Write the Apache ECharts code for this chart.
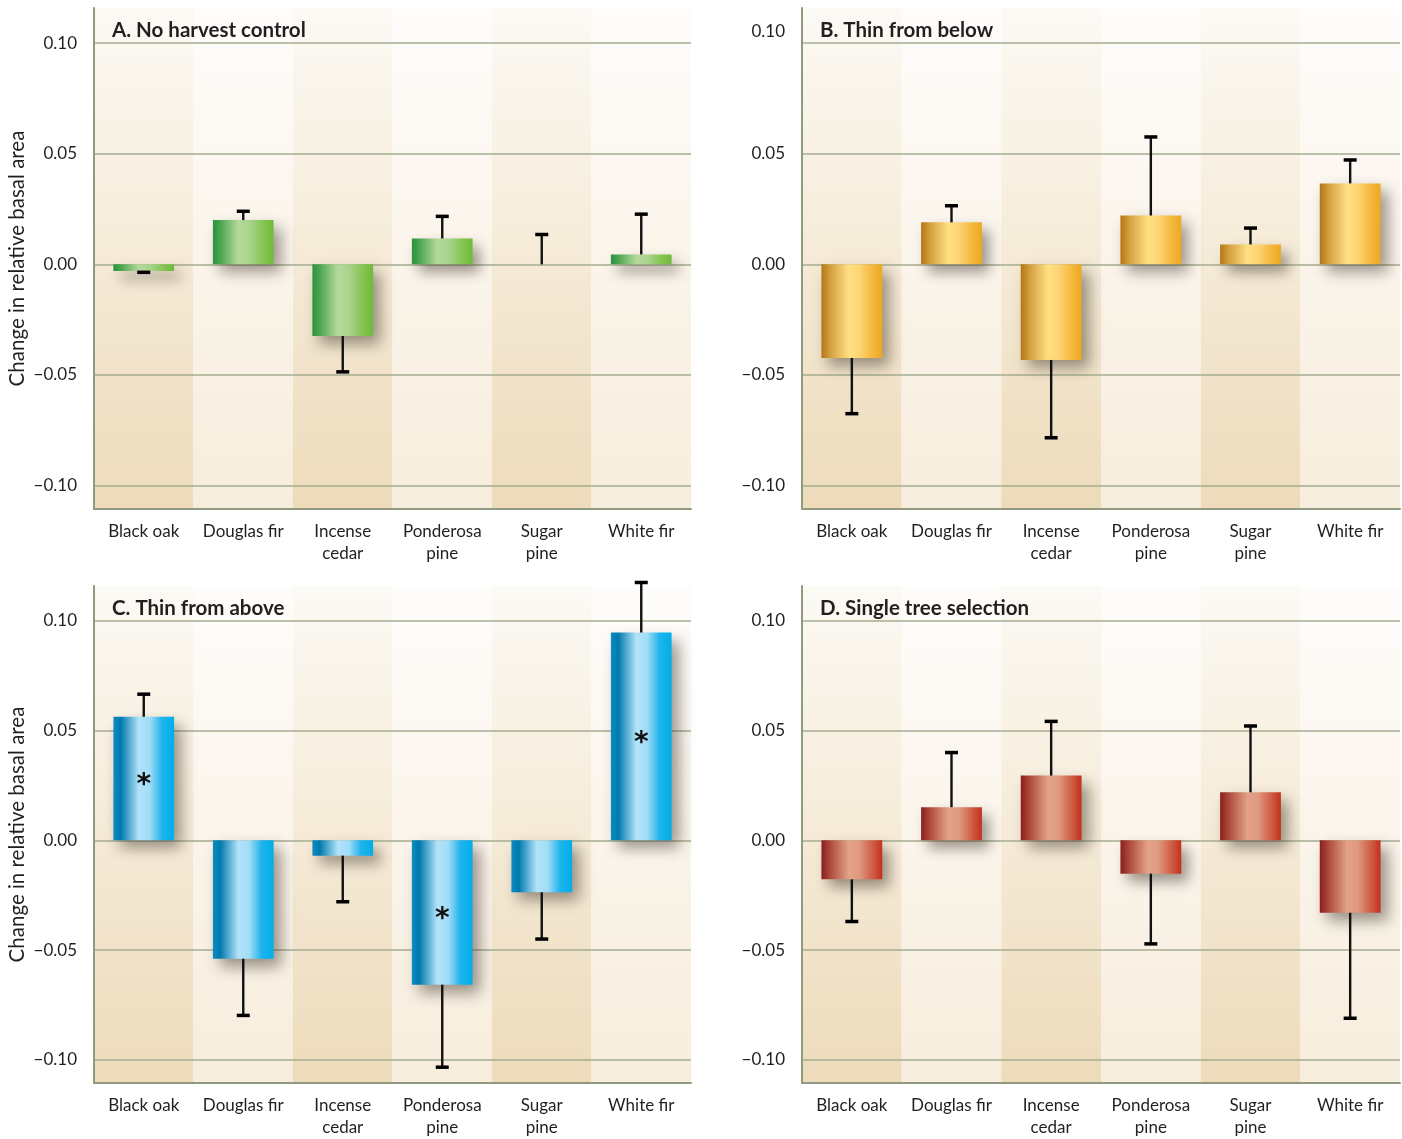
<!DOCTYPE html>
<html><head><meta charset="utf-8">
<script src="https://cdn.jsdelivr.net/npm/echarts@6/dist/echarts.min.js"></script>
<style>html,body{margin:0;padding:0;background:#fff}#c{width:1402px;height:1139px}</style>
</head><body><div id="c"></div>
<script>
// ---- data ----
const categories = ['Black oak', 'Douglas fir', 'Incense\ncedar', 'Ponderosa\npine', 'Sugar\npine', 'White fir'];
const panelTitles = ['A. No harvest control', 'B. Thin from below', 'C. Thin from above', 'D. Single tree selection'];
const yAxisTitle = 'Change in relative basal area';
const yTickValues = [-0.10, -0.05, 0.00, 0.05, 0.10];

const meanA = [-0.003, 0.020, -0.0324, 0.0117, 0.0, 0.0045];
const seA   = [0.0006, 0.004, 0.0162, 0.0100, 0.0135, 0.0182];
const meanB = [-0.0423, 0.019, -0.0432, 0.0221, 0.009, 0.0366];
const seB   = [0.0252, 0.0075, 0.0352, 0.0355, 0.0074, 0.0106];
const meanC = [0.0563, -0.054, -0.007, -0.0658, -0.0237, 0.0947];
const seC   = [0.0103, 0.0258, 0.0210, 0.0376, 0.0213, 0.0228];
const sigC  = ['*', '', '', '*', '', '*'];
const meanD = [-0.0178, 0.0151, 0.0295, -0.0152, 0.0219, -0.0330];
const seD   = [0.0192, 0.0249, 0.0247, 0.0320, 0.0302, 0.0481];

// ---- layout / style ----
const YMIN = -0.1106, YMAX = 0.1159;
const FONT = 'Lato, "Open Sans", sans-serif';
const TXT = '#231f20';
const grids = [
  {left: 94, top: 8, width: 597, height: 501},
  {left: 802, top: 8, width: 598, height: 501},
  {left: 94, top: 586, width: 597, height: 500},
  {left: 802, top: 586, width: 598, height: 500}
];
const G = echarts.graphic.LinearGradient;
const barGrad = [
  [[0,'#2a923d'],[0.12,'#4aa54f'],[0.42,'#b5d99a'],[0.6,'#a9d48d'],[0.85,'#82c34c'],[1,'#6fba3e']],
  [[0,'#b47616'],[0.15,'#d4a040'],[0.45,'#ffe083'],[0.62,'#fdd574'],[0.85,'#f4b73a'],[1,'#eca825']],
  [[0,'#0a8cc2'],[0.12,'#0079ad'],[0.42,'#b2e3f9'],[0.6,'#a2dcf6'],[0.8,'#1fb4ec'],[1,'#00aee9']],
  [[0,'#8a1e1e'],[0.15,'#ae4c3c'],[0.45,'#e3a289'],[0.62,'#df9a80'],[0.85,'#cf5a42'],[1,'#c2301f']]
];
function grad(stops){ return new G(0,0,1,0, stops.map(s=>({offset:s[0], color:s[1]}))); }
const bgDark = new G(0,0,0,1,[{offset:0,color:'#fcfaf5'},{offset:0.45,color:'#f6ecda'},{offset:1,color:'#eddbba'}]);
const bgLight = new G(0,0,0,1,[{offset:0,color:'#fefdfb'},{offset:0.45,color:'#fbf5ec'},{offset:1,color:'#f7eddd'}]);

const means = [meanA, meanB, meanC, meanD];
const ses = [seA, seB, seC, seD];
const sigs = [null, null, sigC, null];

function fmtTick(v, panel){
  const k = v / 0.05;
  if (Math.abs(k - Math.round(k)) > 1e-6) return '';
  const r = Math.round(k) * 0.05;
  if (!yTickValues.some(t => Math.abs(t - r) < 1e-9)) return '';
  let s = Math.abs(r).toFixed(2);
  if (r < -1e-9) s = '\u2212' + s;
  if (panel === 1 && Math.abs(r - 0.10) < 1e-9) return '{hi|' + s + '}';
  return s;
}

const option = {
  backgroundColor: '#ffffff',
  animation: false,
  textStyle: {fontFamily: FONT},
  title: panelTitles.map((t, i) => ({
    text: t, left: grids[i].left + 18, top: grids[i].top + 12, padding: 0,
    textStyle: {fontSize: 20.5, fontWeight: 'bold', color: TXT, fontFamily: FONT}
  })),
  grid: grids,
  xAxis: grids.map((g, i) => ({
    type: 'category', gridIndex: i, data: categories,
    axisLine: {onZero: false, lineStyle: {color: '#8f9a80', width: 2}},
    axisTick: {show: false},
    axisLabel: {interval: 0, fontSize: 17, color: TXT, margin: 12, lineHeight: 22, fontFamily: FONT}
  })),
  yAxis: grids.map((g, i) => ({
    type: 'value', gridIndex: i, min: YMIN, max: YMAX, splitNumber: 5,
    name: (i % 2 === 0) ? yAxisTitle : '',
    nameLocation: 'middle', nameGap: 66,
    nameTextStyle: {fontSize: 20.5, color: TXT, fontFamily: FONT},
    axisLine: {show: true, lineStyle: {color: '#8f9a80', width: 2}},
    axisTick: {show: false},
    splitLine: {show: true, showMinLine: false, showMaxLine: false, lineStyle: {color: '#a4ac90', width: 1.5}},
    axisLabel: {
      fontSize: 17, color: TXT, margin: 17, fontFamily: FONT,
      formatter: v => fmtTick(v, i),
      rich: {hi: {fontSize: 17, color: TXT, fontFamily: FONT, padding: [0, 0, 24, 0]}}
    }
  })),
  series: []
};

grids.forEach((g, p) => {
  // column backgrounds
  option.series.push({
    type: 'custom', xAxisIndex: p, yAxisIndex: p, z: -1, silent: true, clip: false,
    data: categories.map((c, i) => [i]),
    renderItem: (params, api) => {
      const i = api.value(0);
      const t = api.coord([i, YMAX]);
      const b = api.coord([i, YMIN]);
      const w = api.size([1, 0])[0];
      return {type: 'rect', shape: {x: t[0] - w / 2, y: t[1], width: w, height: b[1] - t[1]},
              style: {fill: (i % 2 === 0) ? bgDark : bgLight}};
    }
  });
  // bars
  option.series.push({
    type: 'bar', xAxisIndex: p, yAxisIndex: p, barWidth: '61%', z: 2,
    data: means[p],
    itemStyle: {color: grad(barGrad[p]), shadowColor: 'rgba(40,30,20,0.45)', shadowBlur: 14, shadowOffsetX: 7, shadowOffsetY: 8},
    label: {
      show: !!sigs[p], position: 'inside', offset: [0, 7],
      formatter: prm => sigs[p] ? sigs[p][prm.dataIndex] : '',
      fontSize: 28, fontWeight: 'bold', color: '#111', fontFamily: '"DejaVu Sans", sans-serif'
    }
  });
  // error bars
  option.series.push({
    type: 'custom', xAxisIndex: p, yAxisIndex: p, z: 3, silent: true, clip: false,
    data: means[p].map((m, i) => [i, m, ses[p][i]]),
    renderItem: (params, api) => {
      const i = api.value(0), m = api.value(1), se = api.value(2);
      const end = m >= 0 ? m + se : m - se;
      const a = api.coord([i, m]);
      const b = api.coord([i, end]);
      const cw = 13;
      return {type: 'group', children: [
        {type: 'line', shape: {x1: a[0], y1: a[1], x2: b[0], y2: b[1]}, style: {stroke: '#111', lineWidth: 2.4}},
        {type: 'line', shape: {x1: b[0] - cw / 2, y1: b[1], x2: b[0] + cw / 2, y2: b[1]}, style: {stroke: '#000', lineWidth: 3.5}}
      ]};
    }
  });
});

const chart = echarts.init(document.getElementById('c'), null, {renderer: 'canvas'});
chart.setOption(option);
</script>
</body></html>
